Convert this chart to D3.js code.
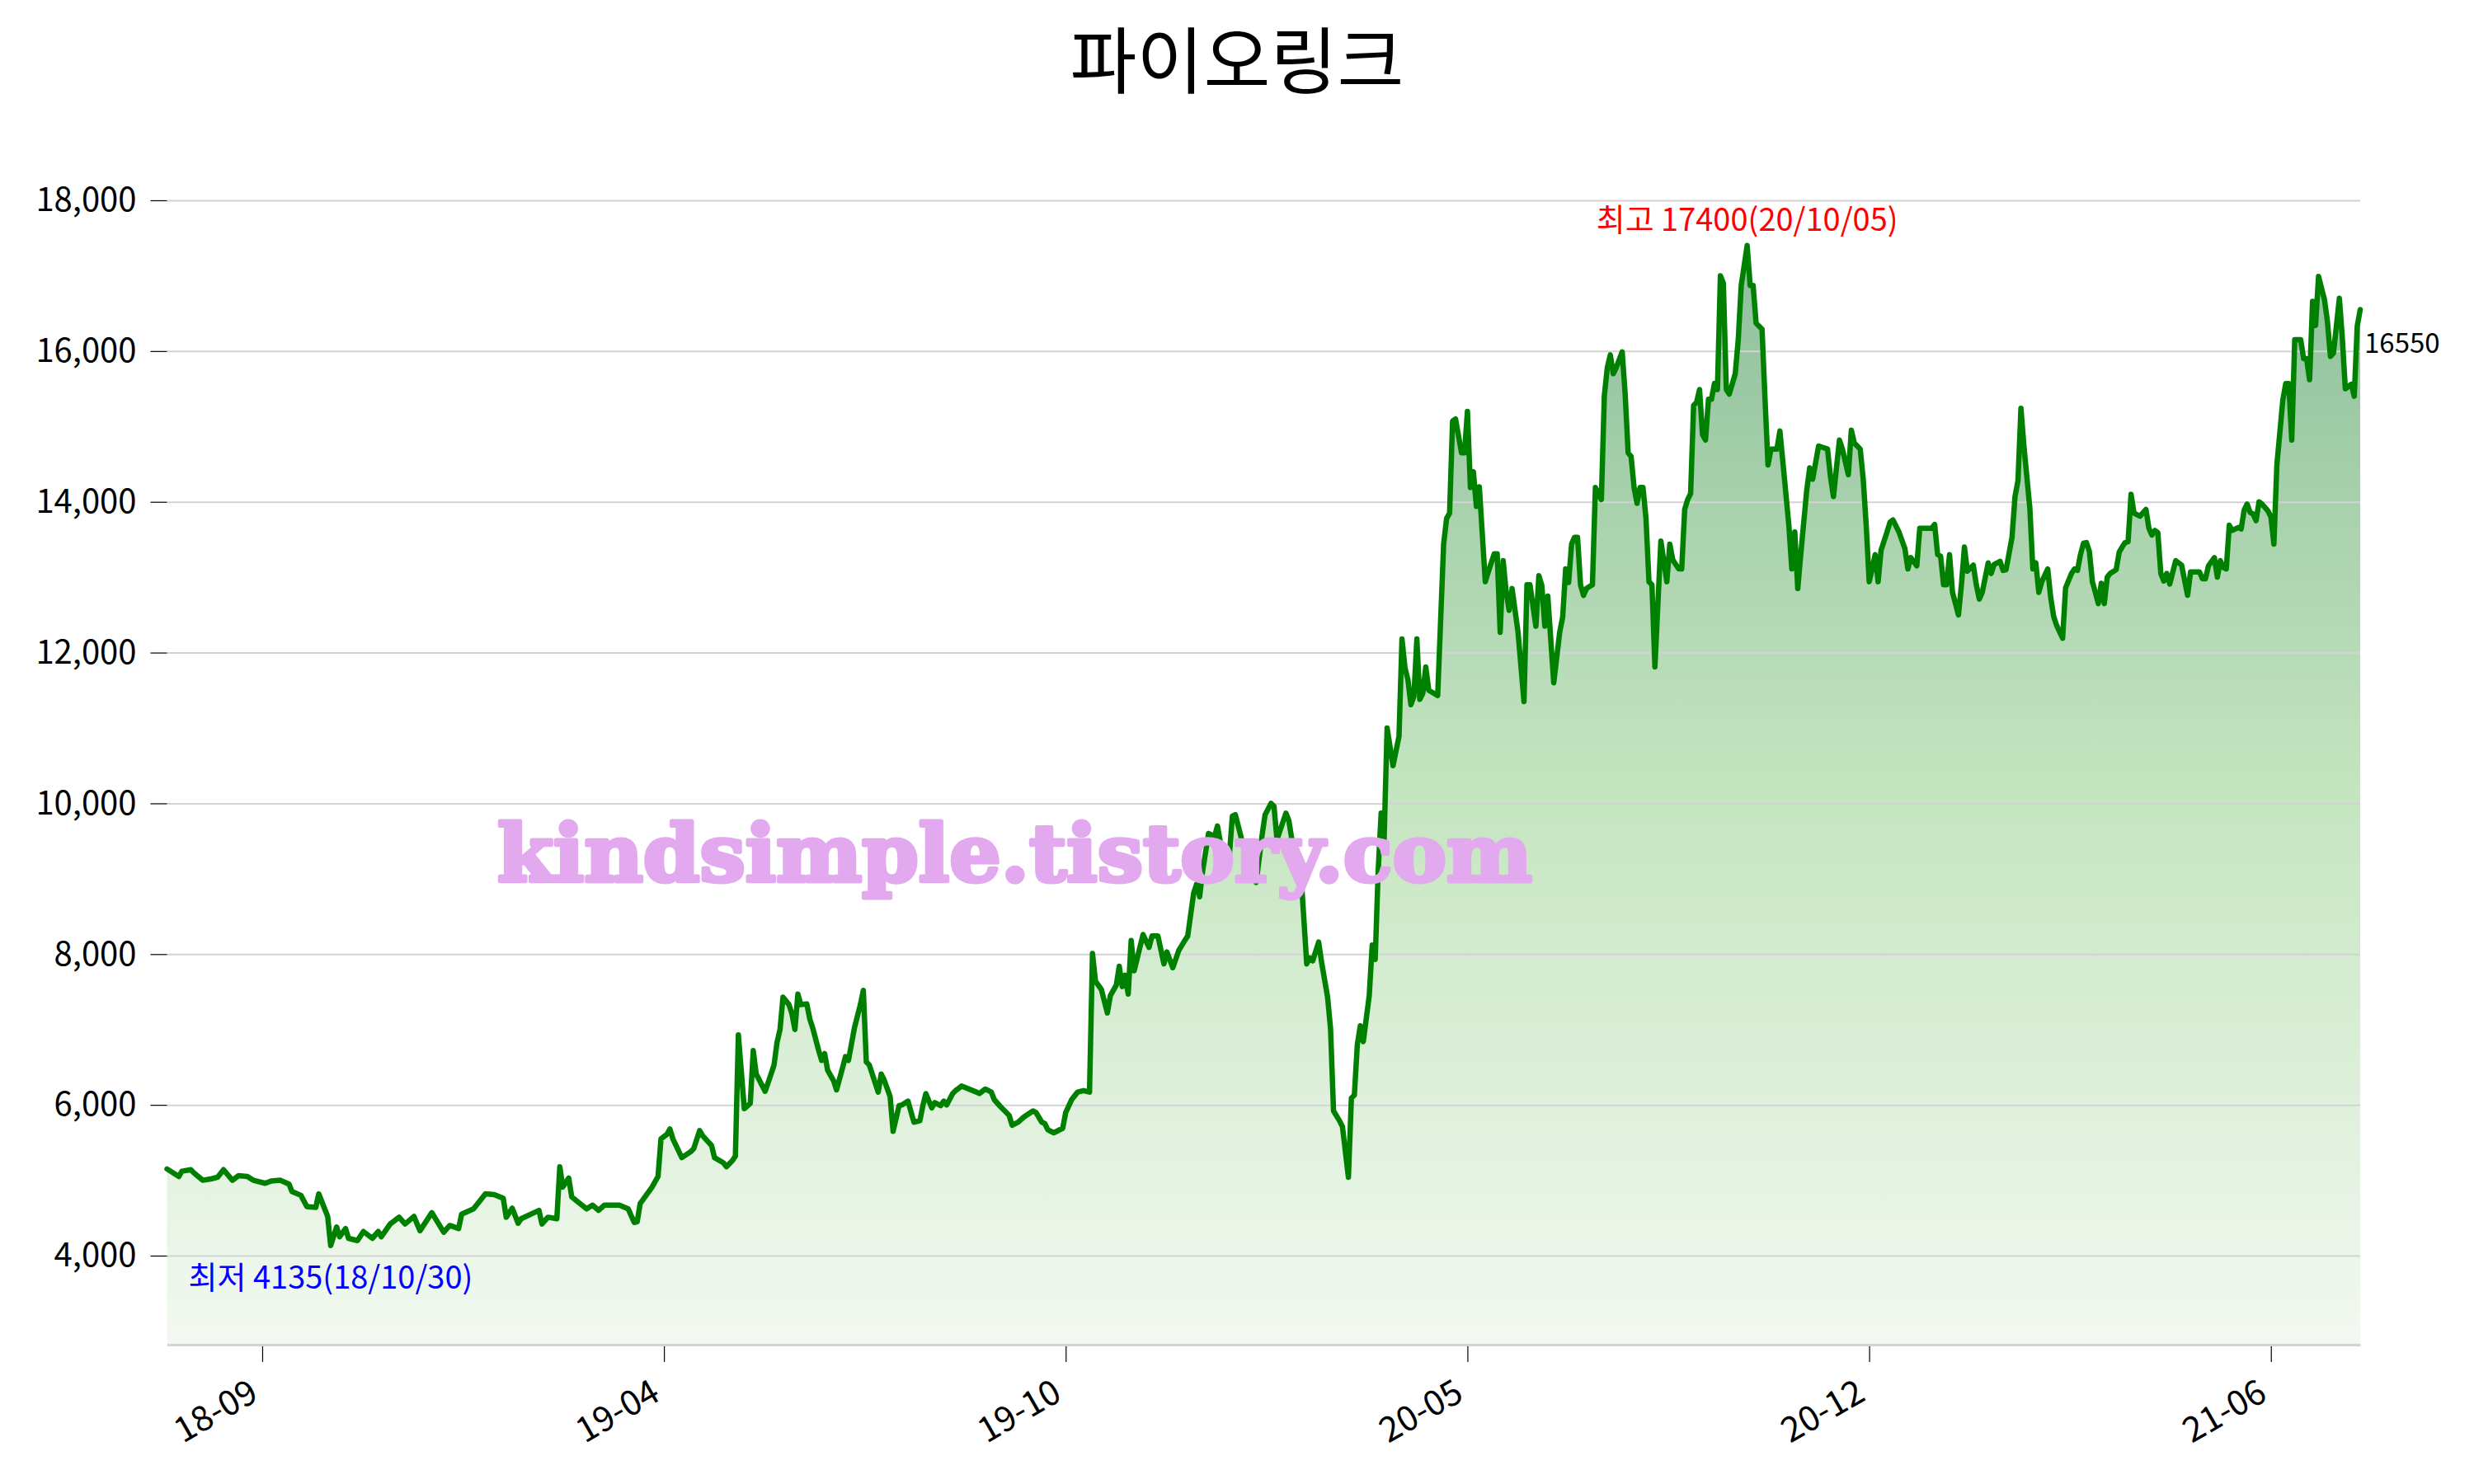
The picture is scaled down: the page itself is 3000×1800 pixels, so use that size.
<!DOCTYPE html>
<html><head><meta charset="utf-8">
<script src="https://cdn.jsdelivr.net/npm/d3@7"></script>
<style>body{margin:0;background:#fff} svg{display:block}</style>
</head><body>
<svg id="chart" width="3000" height="1800"></svg>
<script>
const chartTitle = "파이오링크";
const watermarkText = "kindsimple.tistory.com";
// trading-day index of each sample
const days = [0,4,5,8,9,12,15,17,19,22,24,27,29,33,35,38,41,42,45,47,50,51,54,55,57,58,60,61,64,66,69,71,72,75,78,80,83,85,89,93,95,98,99,103,105,107,110,113,114,116,118,119,125,126,128,131,132,133,135,136,141,143,145,147,152,155,157,158,159,161,163,165,166,168,169,170,173,176,177,179,180,183,184,187,188,190,191,192,194,196,197,198,201,203,204,205,206,207,209,210,211,212,213,215,216,217,219,220,221,222,224,225,227,228,229,231,233,234,235,236,237,239,240,241,243,244,246,247,249,251,253,254,255,257,258,260,261,262,264,265,267,272,273,275,277,278,280,282,283,284,286,288,291,292,294,295,296,298,301,302,304,306,308,310,311,312,314,316,317,319,320,321,322,323,324,325,328,330,331,333,335,336,338,340,342,343,345,346,347,348,350,352,353,354,357,358,359,362,363,365,366,368,369,371,372,373,376,377,378,379,381,383,384,385,387,388,390,391,392,394,395,397,398,399,400,401,402,404,405,406,407,408,409,410,412,414,415,416,417,418,419,420,421,422,423,424,427,429,430,431,432,433,435,436,437,438,439,440,441,443,444,446,447,448,449,450,451,452,454,456,457,458,460,461,462,463,464,466,468,469,470,471,472,473,474,475,476,477,479,480,482,483,484,485,486,487,489,490,491,492,493,494,495,496,497,498,499,500,502,504,505,506,508,509,510,511,512,513,514,515,516,517,518,519,520,521,522,523,524,525,527,528,529,531,532,533,534,536,537,538,539,541,542,543,545,546,547,548,549,551,552,553,555,558,559,560,561,562,563,565,566,567,569,570,571,572,573,574,575,576,578,579,580,582,584,585,586,588,589,593,594,595,596,597,598,599,600,602,603,604,605,607,608,609,610,612,613,614,616,617,618,620,621,622,623,624,626,627,628,629,630,632,633,634,635,637,638,640,641,642,643,644,645,646,647,648,649,650,651,652,653,655,656,657,658,659,660,661,663,665,666,667,668,669,670,671,672,673,675,677,679,680,683,684,685,686,688,689,690,691,692,693,694,696,697,698,699,700,701,702,703,704,706,707,708,709,711,712,713,714,715,716,717,718,719,720,721,722,723,725,726,727,728,730,731,732,734,735,736,737];
const prices = [5150,5050,5120,5140,5100,5000,5020,5040,5140,5000,5060,5050,5000,4960,4990,5000,4950,4850,4800,4650,4640,4820,4520,4135,4380,4250,4360,4230,4200,4320,4230,4320,4250,4420,4510,4420,4520,4330,4570,4310,4400,4360,4550,4620,4720,4820,4810,4760,4510,4630,4430,4490,4600,4420,4510,4490,5180,4910,5030,4780,4620,4670,4600,4670,4670,4620,4440,4450,4690,4800,4910,5050,5550,5610,5680,5550,5300,5380,5420,5660,5590,5460,5300,5230,5180,5260,5320,6930,5950,6020,6720,6410,6180,6410,6530,6830,7000,7430,7330,7210,7000,7470,7330,7340,7140,7020,6720,6590,6680,6460,6320,6200,6490,6640,6590,7020,7330,7520,6570,6530,6410,6170,6410,6330,6110,5650,5990,6000,6050,5770,5790,5990,6150,5960,6030,5990,6050,6000,6150,6190,6250,6170,6150,6210,6170,6070,5980,5900,5860,5730,5770,5840,5920,5900,5770,5750,5670,5630,5690,5900,6070,6170,6190,6170,8010,7640,7530,7220,7450,7590,7840,7570,7720,7470,8180,7780,8260,8090,8240,8240,7870,8030,7820,8050,8180,8240,8810,8930,8760,9100,9600,9560,9700,9480,9310,9830,9850,9390,9270,9080,8950,9580,9850,10000,9960,9520,9870,9770,9520,9430,9100,7870,7950,7910,8160,7890,7430,7010,5920,5790,5710,5040,6090,6130,6800,7050,6840,7450,8120,7930,9100,9870,9520,11000,10500,10890,12180,11800,11640,11310,11420,12180,11380,11460,11810,11500,11430,13440,13780,13850,15070,15100,14650,14650,15200,14190,14400,13940,14200,12940,13070,13310,13310,12270,13220,12810,12560,12850,12270,11350,12900,12900,12350,13020,12890,12350,12750,11600,12270,12470,13110,12930,13440,13530,13530,12900,12760,12850,12900,14190,14030,15410,15780,15950,15700,15780,15990,15430,14650,14600,14190,13980,14190,14190,13780,12940,12900,11810,13480,12940,13440,13230,13110,13110,13900,14030,14110,15280,15320,15490,14890,14820,15360,15360,15570,15490,17000,16900,15490,15430,15700,16150,16870,17400,16870,16870,16370,16290,15360,14490,14700,14700,14940,14530,13690,13110,13600,12850,13300,14150,14450,14300,14740,14700,14330,14070,14450,14820,14700,14360,14950,14780,14700,14300,13690,12940,13110,13300,12940,13360,13600,13730,13760,13600,13380,13110,13260,13150,13650,13650,13700,13300,13280,12900,12900,13300,12800,12500,12900,13400,13080,13160,12900,12710,12800,13190,13050,13170,13210,13090,13100,13530,14070,14280,15240,14740,13910,13110,13190,12800,12940,13110,12730,12480,12360,12190,12860,13050,13110,13090,13300,13450,13460,13340,12940,12800,12650,12920,12650,13000,13050,13100,13330,13400,13460,13470,14100,13850,13810,13900,13650,13560,13620,13590,13050,12950,13050,12910,13220,13160,12760,13070,13070,12980,12980,13150,13260,13000,13220,13130,13110,13690,13620,13660,13640,13890,13970,13860,13840,13750,14000,13970,13880,13800,13440,14490,15350,15570,15570,14820,16150,16150,16150,15900,15900,15620,16660,16340,16990,16680,16390,15930,15970,16700,16170,15500,15560,15400,16330,16550];
const xTickDays = [32,167,302,437,572,707];
const xTickLabels = ["18-09","19-04","19-10","20-05","20-12","21-06"];
const yTickValues = [4000,6000,8000,10000,12000,14000,16000,18000];
const maxDateLabel = "20/10/05";
const minDateLabel = "18/10/30";

const FONT = "'Noto Sans CJK KR','Noto Sans',sans-serif";
const data = days.map((d, i) => ({ d, p: prices[i] }));
const svg = d3.select("#chart");
const x = d3.scaleLinear().domain([0, d3.max(days)]).range([202.5, 2862]);
const y = d3.scaleLinear().domain([2830, 18470]).range([1630, 200]);

const maxPt = data.reduce((a, b) => (b.p > a.p ? b : a));
const minPt = data.reduce((a, b) => (b.p < a.p ? b : a));
const lastPt = data[data.length - 1];

// gradient
const defs = svg.append("defs");
const grad = defs.append("linearGradient").attr("id", "fillGrad")
  .attr("gradientUnits", "userSpaceOnUse")
  .attr("x1", 0).attr("x2", 0).attr("y1", y(maxPt.p)).attr("y2", y.range()[0]);
grad.append("stop").attr("offset", "0%").attr("stop-color", "#8dbf9b");
grad.append("stop").attr("offset", "50%").attr("stop-color", "#c5e5c0");
grad.append("stop").attr("offset", "100%").attr("stop-color", "#f3f9f1");

// area
svg.append("path").datum(data)
  .attr("fill", "url(#fillGrad)")
  .attr("d", d3.area().x(d => x(d.d)).y0(y.range()[0]).y1(d => y(d.p)));

// gridlines
svg.append("g").attr("transform", `translate(${x.range()[0]},0)`)
  .call(d3.axisLeft(y).tickValues(yTickValues).tickSize(-(x.range()[1] - x.range()[0])).tickFormat(""))
  .call(g => g.select(".domain").remove())
  .call(g => g.selectAll("line").attr("stroke", "#d3d3d3").attr("stroke-width", 2));

// line
svg.append("path").datum(data)
  .attr("fill", "none").attr("stroke", "#008000").attr("stroke-width", 6.5)
  .attr("stroke-linejoin", "round").attr("stroke-linecap", "round")
  .attr("d", d3.line().x(d => x(d.d)).y(d => y(d.p)));

// y axis
svg.append("g").attr("transform", `translate(${x.range()[0]},0)`)
  .call(d3.axisLeft(y).tickValues(yTickValues).tickSize(20).tickPadding(17).tickFormat(d3.format(",")))
  .call(g => g.select(".domain").remove())
  .call(g => g.selectAll("line").attr("stroke", "#000").attr("stroke-width", 1.2))
  .call(g => g.selectAll("text").attr("font-family", FONT).attr("font-size", 40).attr("fill", "#000"));

// x axis
const xAxis = svg.append("g").attr("transform", `translate(0,${y.range()[0] + 1})`)
  .call(d3.axisBottom(x).tickValues(xTickDays).tickSizeInner(21).tickSizeOuter(0)
    .tickFormat((d, i) => xTickLabels[i]));
xAxis.select(".domain").attr("stroke", "#d3d3d3").attr("stroke-width", 3);
xAxis.selectAll(".tick line").attr("stroke", "#000").attr("stroke-width", 1.2).attr("y1", 2);
xAxis.selectAll(".tick text")
  .attr("font-family", FONT).attr("font-size", 42).attr("fill", "#000")
  .attr("text-anchor", "end").attr("x", 0).attr("y", 0).attr("dy", 0)
  .attr("transform", "translate(-3,66) rotate(-30)");

// title
svg.append("text").attr("x", 1500).attr("y", 106).attr("text-anchor", "middle")
  .attr("font-family", FONT).attr("font-size", 88).attr("fill", "#000").text(chartTitle);

// annotations
svg.append("text").attr("x", x(maxPt.d)).attr("y", y(maxPt.p) - 18).attr("text-anchor", "middle")
  .attr("font-family", FONT).attr("font-size", 38).attr("fill", "#ff0000")
  .text(`최고 ${maxPt.p}(${maxDateLabel})`);
svg.append("text").attr("x", x(minPt.d)).attr("y", y(minPt.p) + 52).attr("text-anchor", "middle")
  .attr("font-family", FONT).attr("font-size", 38).attr("fill", "#0000ff")
  .text(`최저 ${minPt.p}(${minDateLabel})`);
svg.append("text").attr("x", x(lastPt.d) + 5).attr("y", y(lastPt.p) + 52)
  .attr("font-family", FONT).attr("font-size", 33).attr("fill", "#000")
  .text(lastPt.p);

// watermark
svg.append("text").attr("x", 603).attr("y", 1069)
  .attr("font-family", "'DejaVu Serif',serif").attr("font-weight", "bold").attr("font-size", 96)
  .attr("textLength", 1255).attr("lengthAdjust", "spacingAndGlyphs")
  .attr("fill", "#e3a9ef").attr("stroke", "#e3a9ef").attr("stroke-width", 5).attr("stroke-linejoin", "round")
  .text(watermarkText);
</script>
</body></html>
